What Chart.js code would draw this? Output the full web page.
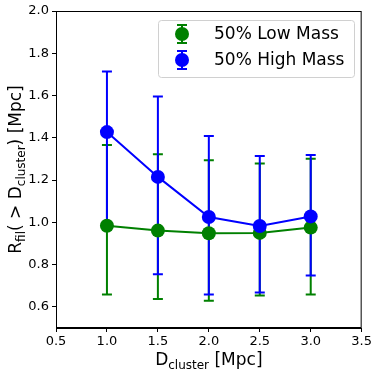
<!DOCTYPE html>
<html>
<head>
<meta charset="utf-8">
<script src="https://cdn.jsdelivr.net/npm/chart.js@4"></script>
<style>
  html, body { margin: 0; padding: 0; background: #fff; }
  #wrap { width: 374px; height: 374px; }
</style>
</head>
<body>
<div id="wrap"><canvas id="myChart" width="374" height="374"></canvas></div>
<script>
const xValues = [1.0, 1.5, 2.0, 2.5, 3.0];
const lowMass = [0.984, 0.961, 0.948, 0.950, 0.975];
const lowMassLower = [0.659, 0.637, 0.629, 0.654, 0.659];
const lowMassUpper = [1.366, 1.322, 1.294, 1.278, 1.301];
const highMass = [1.427, 1.215, 1.025, 0.983, 1.028];
const highMassLower = [1.0, 0.754, 0.658, 0.668, 0.749];
const highMassUpper = [1.714, 1.595, 1.408, 1.314, 1.319];
const xTicks = [0.5, 1.0, 1.5, 2.0, 2.5, 3.0, 3.5];
const yTicks = [0.6, 0.8, 1.0, 1.2, 1.4, 1.6, 1.8, 2.0];
const labels = ['50% Low Mass', '50% High Mass'];

const green = '#008000';
const blue = '#0000ff';
const FONT = "'DejaVu Sans', sans-serif";

const errors = [
  { color: green, lo: lowMassLower, hi: lowMassUpper },
  { color: blue, lo: highMassLower, hi: highMassUpper }
];

// draw text made of normal and subscript parts, starting at x
function drawParts(ctx, parts, x, y) {
  for (const p of parts) {
    ctx.font = (p.sub ? '12px ' : '17px ') + FONT;
    ctx.fillText(p.t, x, y + (p.sub ? 4 : 0));
    x += ctx.measureText(p.t).width;
  }
}
function partsWidth(ctx, parts) {
  let w = 0;
  for (const p of parts) {
    ctx.font = (p.sub ? '12px ' : '17px ') + FONT;
    w += ctx.measureText(p.t).width;
  }
  return w;
}

const errorBars = {
  id: 'errorBars',
  beforeDatasetsDraw(chart) {
    const ctx = chart.ctx;
    const xs = chart.scales.x, ys = chart.scales.y;
    ctx.save();
    for (const e of errors) {
      ctx.strokeStyle = e.color;
      ctx.lineWidth = 2;
      xValues.forEach((xv, i) => {
        const px = xs.getPixelForValue(xv);
        const p1 = ys.getPixelForValue(e.lo[i]);
        const p2 = ys.getPixelForValue(e.hi[i]);
        ctx.beginPath();
        ctx.moveTo(px, p1); ctx.lineTo(px, p2);
        ctx.moveTo(px - 5, p1); ctx.lineTo(px + 5, p1);
        ctx.moveTo(px - 5, p2); ctx.lineTo(px + 5, p2);
        ctx.stroke();
      });
    }
    ctx.restore();
  },
  afterDraw(chart) {
    const ctx = chart.ctx;
    const a = chart.chartArea;
    ctx.save();
    // frame
    ctx.strokeStyle = '#000';
    ctx.lineWidth = 1;
    ctx.strokeRect(a.left + 0.5, a.top + 0.5, a.right - a.left - 1, a.bottom - a.top - 1);

    // axis titles
    ctx.fillStyle = '#000';
    ctx.textBaseline = 'alphabetic';
    const xParts = [{ t: 'D' }, { t: 'cluster', sub: true }, { t: ' [Mpc]' }];
    const xw = partsWidth(ctx, xParts);
    drawParts(ctx, xParts, (a.left + a.right) / 2 - xw / 2, 365);

    const yParts = [{ t: 'R' }, { t: 'fil', sub: true }, { t: '( > D' }, { t: 'cluster', sub: true }, { t: ') [Mpc]' }];
    const yw = partsWidth(ctx, yParts);
    ctx.save();
    ctx.translate(21, (a.top + a.bottom) / 2);
    ctx.rotate(-Math.PI / 2);
    drawParts(ctx, yParts, -yw / 2, 0);
    ctx.restore();

    // legend
    const lx = 158, ly = 20, lw = 196, lh = 57;
    ctx.beginPath();
    ctx.roundRect(lx + 0.5, ly + 0.5, lw, lh, 3);
    ctx.fillStyle = 'rgba(255,255,255,0.8)';
    ctx.fill();
    ctx.strokeStyle = '#d0d0d0';
    ctx.lineWidth = 1;
    ctx.stroke();
    [green, blue].forEach((c, i) => {
      const cy = 34 + i * 26;
      const cx = 182;
      ctx.strokeStyle = c;
      ctx.lineWidth = 2;
      ctx.beginPath();
      ctx.moveTo(cx, cy - 9); ctx.lineTo(cx, cy + 9);
      ctx.moveTo(cx - 5, cy - 9); ctx.lineTo(cx + 5, cy - 9);
      ctx.moveTo(cx - 5, cy + 9); ctx.lineTo(cx + 5, cy + 9);
      ctx.stroke();
      ctx.fillStyle = c;
      ctx.beginPath();
      ctx.arc(cx, cy, 7, 0, Math.PI * 2);
      ctx.fill();
      ctx.fillStyle = '#000';
      ctx.font = '17px ' + FONT;
      ctx.textBaseline = 'middle';
      ctx.fillText(labels[i], 214, cy + 1);
    });
    ctx.restore();
  }
};

const ctx = document.getElementById('myChart');
const myChart = new Chart(ctx, {
  type: 'line',
  data: {
    datasets: [{
      label: labels[0],
      data: xValues.map((x, i) => ({ x: x, y: lowMass[i] })),
      borderColor: green,
      backgroundColor: green,
      pointBackgroundColor: green,
      pointBorderWidth: 0,
      pointRadius: 7,
      borderWidth: 2,
      order: 2
    }, {
      label: labels[1],
      data: xValues.map((x, i) => ({ x: x, y: highMass[i] })),
      borderColor: blue,
      backgroundColor: blue,
      pointBackgroundColor: blue,
      pointBorderWidth: 0,
      pointRadius: 7,
      borderWidth: 2,
      order: 1
    }]
  },
  options: {
    responsive: false,
    animation: false,
    layout: { padding: { left: 0, top: 11, right: 11, bottom: 0 } },
    plugins: {
      legend: { display: false },
      tooltip: { enabled: false }
    },
    scales: {
      x: {
        type: 'linear',
        min: 0.5,
        max: 3.5,
        afterBuildTicks: (s) => { s.ticks = xTicks.map(v => ({ value: v })); },
        afterFit: (s) => { s.height = 46; },
        ticks: {
          color: '#000',
          font: { family: FONT, size: 13 },
          padding: 2,
          maxRotation: 0,
          callback: (v) => v.toFixed(1)
        },
        grid: { drawOnChartArea: false, drawTicks: true, tickLength: 4, color: '#000' },
        border: { display: true, color: '#000' }
      },
      y: {
        min: 0.5,
        max: 2.0,
        afterBuildTicks: (s) => { s.ticks = yTicks.map(v => ({ value: v })); },
        afterFit: (s) => { s.width = 56; },
        ticks: {
          color: '#000',
          font: { family: FONT, size: 13 },
          padding: 3,
          callback: (v) => v.toFixed(1)
        },
        grid: { drawOnChartArea: false, drawTicks: true, tickLength: 4, color: '#000' },
        border: { display: true, color: '#000' }
      }
    }
  },
  plugins: [errorBars]
});
</script>
</body>
</html>
